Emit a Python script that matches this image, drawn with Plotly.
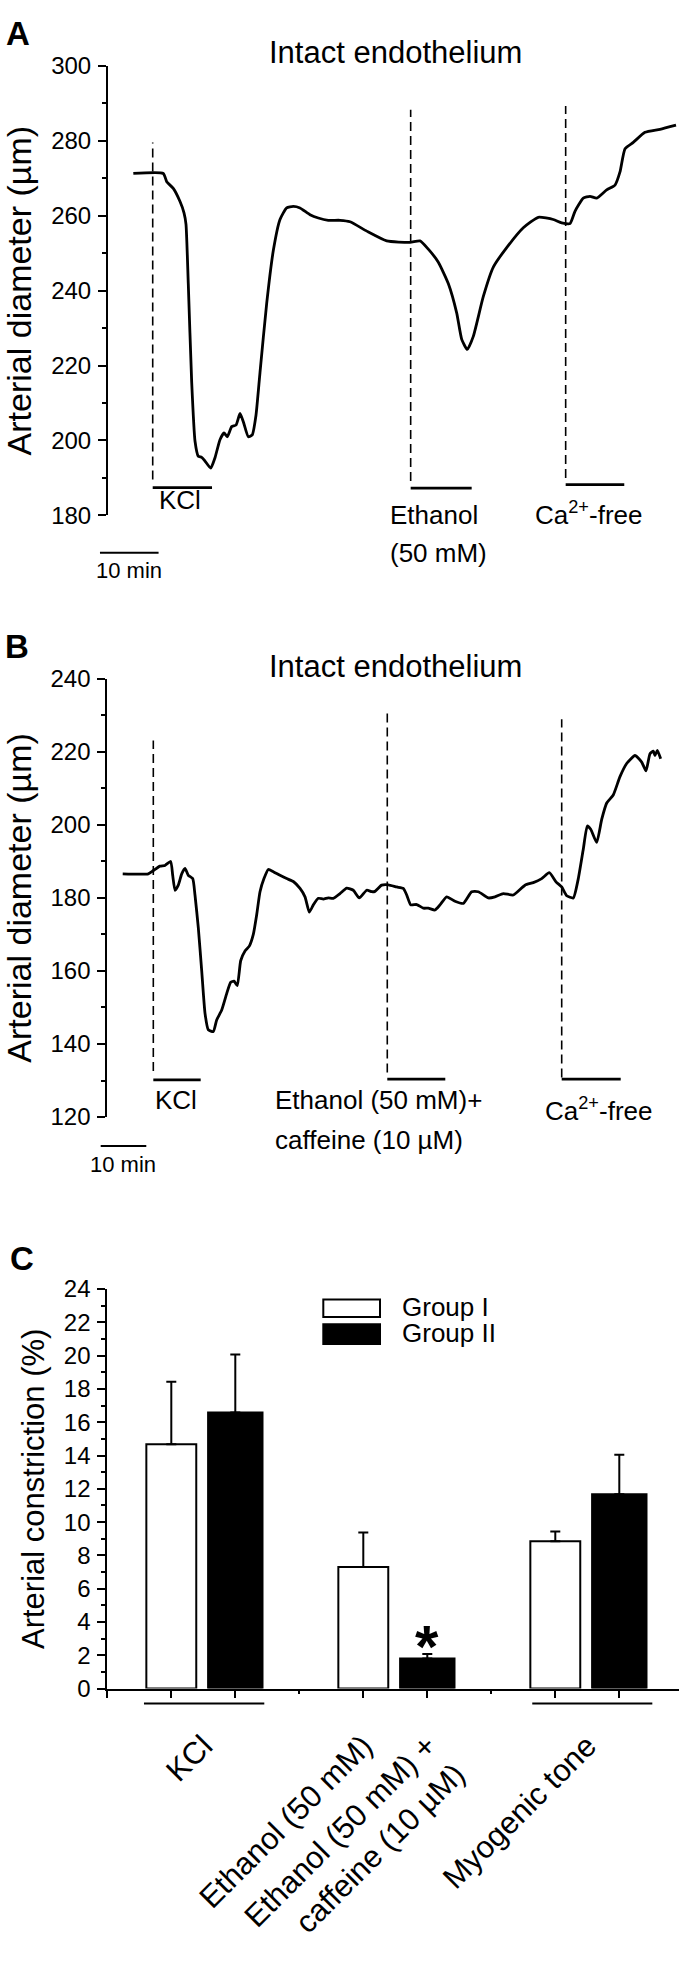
import plotly.graph_objects as go

W, H = 679, 1981
FONT = "Liberation Sans, Arial, sans-serif"

# ---------------- Panel A data (time in min, diameter in um) ----------------
a_time = [4.32, 9.44, 10.02, 11.14, 12.29, 12.97, 13.31, 13.70, 14.28, 14.85, 15.41, 15.99,
          16.55, 17.53, 18.26, 19.11, 19.80, 20.36, 21.11, 21.84, 22.53, 23.09, 23.94, 24.62,
          25.26, 25.94, 27.08, 28.21, 29.35, 30.49, 31.62, 32.76, 34.47, 35.89, 37.59, 39.59,
          41.30, 44.15, 47.56, 51.54, 53.24, 54.66, 56.37, 58.07, 59.51, 60.36, 61.31, 62.34,
          64.04, 65.75, 68.04, 70.87, 73.43, 75.99, 77.42, 78.84, 79.69, 81.11, 82.25, 83.40,
          85.10, 86.52, 87.37, 88.23, 89.64, 91.64, 94.20, 96.93]
a_diam = [271.3, 271.3, 269.1, 267.3, 263.8, 260.8, 257.7, 241.9, 215.6, 199.8, 195.8, 195.5,
          194.5, 192.6, 195.4, 200.2, 202.0, 201.0, 203.7, 204.1, 207.2, 205.0, 201.0, 201.5,
          206.8, 218.2, 236.6, 250.7, 259.0, 262.1, 262.5, 262.1, 260.3, 259.4, 258.8, 258.8,
          258.4, 255.9, 253.3, 252.9, 253.3, 251.1, 247.6, 241.9, 234.0, 227.0, 224.3, 227.8,
          238.4, 246.3, 251.5, 256.8, 259.6, 259.0, 258.1, 257.9, 261.2, 264.7, 265.2, 264.7,
          266.9, 268.2, 271.7, 277.9, 279.6, 282.3, 283.1, 284.2]
a_event_start = [7.63, 51.65, 78.10]
a_event_end = [17.75, 62.06, 88.10]
a_dash_top = [279.6, 288.3, 289.3]
a_dash_bottom = [189.6, 189.2, 190.0]
a_bar_level = [187.4, 187.3, 188.2]

# ---------------- Panel B data ----------------
b_time = [3.38, 8.99, 10.09, 11.56, 12.65, 13.90, 14.34, 14.85, 15.57, 16.32, 17.04, 17.76,
          18.73, 19.23, 19.96, 20.70, 21.43, 22.15, 23.25, 23.99, 25.09, 26.18, 27.06, 27.79,
          28.51, 29.25, 30.20, 31.14, 32.02, 32.76, 33.49, 34.36, 35.31, 36.40, 37.87, 39.34,
          40.79, 42.26, 43.36, 44.30, 45.18, 46.27, 47.37, 48.46, 49.56, 51.03, 52.50, 53.95,
          55.26, 56.89, 57.98, 58.71, 60.18, 61.62, 63.46, 64.91, 65.66, 66.54, 67.85, 69.30,
          70.39, 71.86, 72.96, 74.43, 76.25, 78.07, 79.91, 81.36, 83.55, 85.02, 86.84, 89.04,
          91.60, 93.42, 95.26, 96.93, 98.40, 99.65, 100.75, 102.19, 103.29, 104.39, 105.26,
          106.01, 107.32, 108.42, 109.52, 110.96, 112.43, 113.90, 115.72, 117.19, 118.14,
          119.01, 119.74, 120.11, 120.61, 121.36]
b_diam = [186.6, 186.6, 187.5, 188.7, 188.9, 190.0, 186.2, 182.1, 183.5, 186.6, 188.1, 186.2,
          185.3, 180.8, 171.8, 160.1, 148.4, 143.9, 143.4, 146.6, 149.3, 153.8, 156.9, 157.2,
          156.0, 162.8, 165.5, 166.8, 170.0, 175.4, 181.7, 185.3, 187.8, 187.2, 186.2, 185.3,
          184.5, 182.6, 180.3, 176.1, 178.1, 179.9, 179.7, 180.0, 179.9, 181.2, 182.7, 182.1,
          180.0, 182.1, 181.7, 181.8, 183.5, 183.6, 183.0, 182.6, 180.8, 178.1, 178.2, 177.2,
          177.2, 176.7, 178.1, 180.3, 179.1, 178.5, 181.7, 181.7, 180.0, 180.3, 181.2, 180.8,
          183.5, 184.2, 185.3, 186.9, 184.4, 183.0, 180.6, 180.0, 185.3, 193.4, 199.7,
          198.8, 195.2, 201.5, 206.0, 208.2, 213.2, 216.8, 219.0, 217.2, 214.8,
          219.5, 220.2, 219.0, 220.4, 218.1]
b_event_start = [10.09, 61.40, 99.65]
b_event_end = [20.48, 74.12, 112.59]
b_dash_top = [223.1, 231.2, 228.9]
b_dash_bottom = [132.6, 132.2, 130.8]
b_bar_level = [130.2, 130.4, 130.4]

# ---------------- Panel C data ----------------
c_cat_labels = ["KCl", "Ethanol (50 mM)", "Ethanol (50 mM) +<br>caffeine (10 \u00b5M)", "Myogenic tone"]
c_label_pos = [1.5, 4, 5, 7.5]
g1_pos = [1, 4, 7]
g1_vals = [14.68, 7.31, 8.85]
g1_err = [3.75, 2.07, 0.59]
g2_pos = [2, 5, 8]
g2_vals = [16.59, 1.80, 11.67]
g2_err = [3.48, 0.27, 2.37]
group_names = ["Group I", "Group II"]

# ---------------- geometry helpers ----------------
def py(px):
    return 1 - px / H

def px_x(px):
    return px / W

A_XR = [0, (W - 108) / 5.86]
A_YR = [180, 300]
B_XR = [0, (W - 107.3) / 4.56]
B_YR = [120, 240]
C_XR = [0, (W - 107.3) / 64.0]
C_YR = [0, 24]

def frac(v, r):
    return (v - r[0]) / (r[1] - r[0])

fig = go.Figure()
BLACK = "black"

def add_trace_panel(t, d, starts, ends, tops, bottoms, levels, xa, ya):
    fig.add_trace(go.Scatter(x=t, y=d, mode="lines", xaxis=xa, yaxis=ya,
                             line=dict(color=BLACK, width=2.8, shape="spline", smoothing=0.5),
                             showlegend=False, hoverinfo="skip"))
    for s, e, tp, bt, lv in zip(starts, ends, tops, bottoms, levels):
        fig.add_trace(go.Scatter(x=[s, s], y=[bt, tp], mode="lines", xaxis=xa, yaxis=ya,
                                 line=dict(color=BLACK, width=1.6, dash="9px,5px"),
                                 showlegend=False, hoverinfo="skip"))
        fig.add_trace(go.Scatter(x=[s, e], y=[lv, lv], mode="lines", xaxis=xa, yaxis=ya,
                                 line=dict(color=BLACK, width=2.8),
                                 showlegend=False, hoverinfo="skip"))

add_trace_panel(a_time, a_diam, a_event_start, a_event_end, a_dash_top, a_dash_bottom, a_bar_level, "x", "y")
add_trace_panel(b_time, b_diam, b_event_start, b_event_end, b_dash_top, b_dash_bottom, b_bar_level, "x2", "y2")

# Panel C bars
fig.add_trace(go.Bar(x=g1_pos, y=g1_vals, width=0.78, name=group_names[0], xaxis="x3", yaxis="y3",
                     marker=dict(color="white", line=dict(color=BLACK, width=2)),
                     error_y=dict(type="data", array=g1_err, arrayminus=[0] * 3, symmetric=False,
                                  color=BLACK, thickness=2, width=5),
                     showlegend=False))
fig.add_trace(go.Bar(x=g2_pos, y=g2_vals, width=0.85, name=group_names[1], xaxis="x3", yaxis="y3",
                     marker=dict(color=BLACK, line=dict(color=BLACK, width=2)),
                     error_y=dict(type="data", array=g2_err, arrayminus=[0] * 3, symmetric=False,
                                  color=BLACK, thickness=2, width=5),
                     showlegend=False))
fig.add_trace(go.Scatter(x=[], y=[], xaxis="x4", yaxis="y3", showlegend=False))

axis_common = dict(showgrid=False, zeroline=False, linecolor=BLACK, linewidth=2,
                   tickcolor=BLACK, tickwidth=2)

layout = dict(
    width=W, height=H, margin=dict(l=0, r=0, t=0, b=0),
    paper_bgcolor="white", plot_bgcolor="white",
    font=dict(family=FONT, color=BLACK),
    barmode="overlay", showlegend=False,
    xaxis=dict(domain=[px_x(108), 1], range=A_XR, anchor="y", visible=False),
    yaxis=dict(domain=[py(508.3), py(52.7)], range=A_YR, anchor="x",
               tickvals=list(range(180, 301, 20)), ticks="outside", ticklen=8, showline=True,
               minor=dict(dtick=10, tick0=0, ticks="outside", ticklen=4, tickwidth=2, tickcolor=BLACK),
               tickfont=dict(size=24), ticklabelstandoff=2,
               title=dict(text="Arterial diameter (\u00b5m)", font=dict(size=34), standoff=10),
               **axis_common),
    xaxis2=dict(domain=[px_x(107.3), 1], range=B_XR, anchor="y2", visible=False),
    yaxis2=dict(domain=[py(1118.3), py(674)], range=B_YR, anchor="x2",
                tickvals=list(range(120, 241, 20)), ticks="outside", ticklen=8, showline=True,
                minor=dict(dtick=10, tick0=0, ticks="outside", ticklen=4, tickwidth=2, tickcolor=BLACK),
                tickfont=dict(size=24), ticklabelstandoff=2,
                title=dict(text="Arterial diameter (\u00b5m)", font=dict(size=34), standoff=10),
                **axis_common),
    xaxis3=dict(domain=[px_x(107.3), 1], range=C_XR, anchor="y3", showline=True,
                tickmode="array", tickvals=[0, 1, 2, 4, 5, 7, 8], ticks="outside", ticklen=7,
                showticklabels=False,
                minor=dict(tickmode="array", tickvals=[3, 6], ticks="outside", ticklen=3,
                           tickwidth=2, tickcolor=BLACK),
                **axis_common),
    xaxis4=dict(overlaying="x3", anchor="y3", range=C_XR, side="bottom", showline=False,
                showgrid=False, zeroline=False, tickmode="array", tickvals=c_label_pos,
                ticktext=c_cat_labels, tickangle=-45, ticks="", tickfont=dict(size=31),
                ticklabelstandoff=32),
    yaxis3=dict(domain=[py(1697.7), py(1292.7)], range=C_YR, anchor="x3",
                tickvals=list(range(0, 25, 2)), ticks="outside", ticklen=8, showline=True,
                minor=dict(dtick=1, tick0=0, ticks="outside", ticklen=4, tickwidth=2, tickcolor=BLACK),
                tickfont=dict(size=24), ticklabelstandoff=2,
                title=dict(text="Arterial constriction (%)", font=dict(size=31), standoff=10),
                **axis_common),
)
fig.update_layout(**layout)

ann = []
shapes = []

# Panel letters and titles
for letter, xp, yp in [("A", 18, 20), ("B", 17, 641), ("C", 22, 1262)]:
    ann.append(dict(text="<b>%s</b>" % letter, x=px_x(xp), y=py(yp), xref="paper", yref="paper",
                    showarrow=False, font=dict(size=33), xanchor="center", yanchor="middle"))
for yp in [39, 661.7]:
    ann.append(dict(text="Intact endothelium", x=px_x(395), y=py(yp), xref="paper", yref="paper",
                    showarrow=False, font=dict(size=31), xanchor="center", yanchor="middle"))

# Event labels placed in axis-domain coordinates derived from data values
a_labels = [("KCl", 8.3, 184.0), ("Ethanol", 47.8, 180.2), ("(50 mM)", 47.8, 170.0),
            ("Ca<sup>2+</sup>-free", 72.5, 180.4)]
for txt, t, v in a_labels:
    ann.append(dict(text=txt, x=frac(t, A_XR), y=frac(v, A_YR), xref="x domain", yref="y domain",
                    showarrow=False, font=dict(size=26), xanchor="left", yanchor="middle"))
b_labels = [("KCl", 10.0, 124.8), ("Ethanol (50 mM)+", 36.3, 124.6),
            ("caffeine (10 \u00b5M)", 36.3, 113.6), ("Ca<sup>2+</sup>-free", 95.5, 122.0)]
for txt, t, v in b_labels:
    ann.append(dict(text=txt, x=frac(t, B_XR), y=frac(v, B_YR), xref="x2 domain", yref="y2 domain",
                    showarrow=False, font=dict(size=26), xanchor="left", yanchor="middle"))

# Scale bars (10 min)
scale_len = 10
for xr, yr, xa, ya, t0, vbar, vlab in [(A_XR, A_YR, "x", "y", -1.37, 170.0, 165.2),
                                        (B_XR, B_YR, "x2", "y2", -1.45, 112.1, 107.0)]:
    shapes.append(dict(type="line", xref=xa + " domain", yref=ya + " domain",
                       x0=frac(t0, xr), x1=frac(t0 + scale_len, xr),
                       y0=frac(vbar, yr), y1=frac(vbar, yr), line=dict(color=BLACK, width=2)))
    ann.append(dict(text="10 min", x=frac(t0 + scale_len / 2, xr), y=frac(vlab, yr),
                    xref=xa + " domain", yref=ya + " domain", showarrow=False,
                    font=dict(size=22), xanchor="center", yanchor="middle"))

# Panel C group brackets under the axis
for k0, k1 in [(0.573, 2.453), (6.64, 8.516)]:
    shapes.append(dict(type="line", xref="x3 domain", yref="y3 domain",
                       x0=frac(k0, C_XR), x1=frac(k1, C_XR), y0=frac(-0.89, C_YR), y1=frac(-0.89, C_YR),
                       line=dict(color=BLACK, width=2)))

# significance asterisk
ann.append(dict(text="<b>*</b>", x=5, y=2.5, xref="x3", yref="y3", showarrow=False,
                font=dict(size=60), xanchor="center", yanchor="middle"))

# Legend drawn manually to match large swatches
for i, (name, fillc) in enumerate(zip(group_names, ["white", BLACK])):
    top = [1303.3, 1328.3][i]
    bot = [1321.0, 1348.3][i]
    shapes.append(dict(type="rect", xref="paper", yref="paper", x0=px_x(323.3), x1=px_x(380),
                       y0=py(bot), y1=py(top), fillcolor=fillc, line=dict(color=BLACK, width=2)))
    ann.append(dict(text=name, x=px_x(400), y=py([1311, 1337][i]), xref="paper", yref="paper",
                    showarrow=False, font=dict(size=26), xanchor="left", yanchor="middle"))

fig.update_layout(annotations=ann, shapes=shapes)
fig.write_html("out.html", config={"displayModeBar": False},
               post_script="document.body.style.margin='0';")
